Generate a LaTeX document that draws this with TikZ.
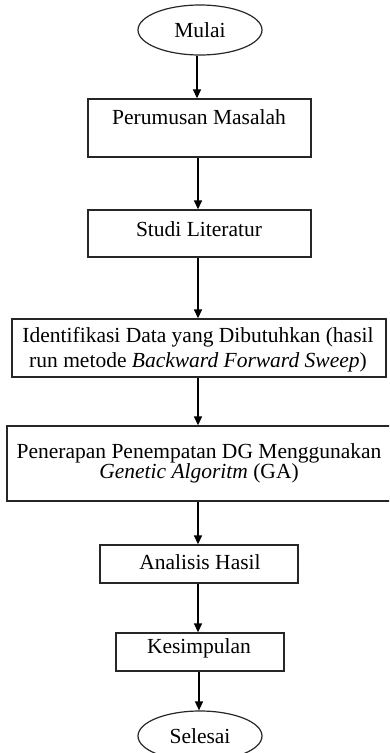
\documentclass[tikz,border=0pt]{standalone}
\usepackage{fontspec}
\setmainfont{Liberation Serif}
\usetikzlibrary{shapes.geometric,arrows.meta}
\begin{document}
\begin{tikzpicture}[x=1pt,y=-1pt,
 box/.style={draw=black!85, line width=1.3pt, inner sep=0pt},
 oval/.style={ellipse, draw=black!85, line width=1.2pt, inner sep=0pt, minimum width=124pt, minimum height=50pt, font=\fontsize{21.5}{25}\selectfont},
 txt/.style={font=\fontsize{21.5}{25}\selectfont, align=center, inner sep=0pt},
 arr/.style={draw=black, line width=1.4pt, -{Triangle[length=9pt,width=8pt]}}]
\useasboundingbox (0,0) rectangle (389,753);
\clip (0,0) rectangle (389,753);
\node[oval] (mulai) at (200,30) {Mulai};
\node[box, minimum width=223pt, minimum height=58pt] (perumusan) at (199.5,128) {};
\node[txt] (perumusanT) at (199,117) {Perumusan Masalah};
\node[box, minimum width=223pt, minimum height=47pt] (studi) at (199.5,233.5) {};
\node[txt] (studiT) at (199,229) {Studi Literatur};
\node[box, minimum width=374pt, minimum height=58pt] (ident) at (199,348) {};
\node[txt] (identT) at (198,349.5) {Identifikasi Data yang Dibutuhkan (hasil\\run metode \textit{Backward Forward Sweep})};
\node[box, minimum width=386pt, minimum height=75pt] (penerapan) at (200,463.5) {};
\node[txt, font=\fontsize{21.5}{20}\selectfont] (penerapanT) at (199,463) {Penerapan Penempatan DG Menggunakan\\\textit{Genetic Algoritm} (GA)};
\node[box, minimum width=198pt, minimum height=38pt] (analisis) at (199,564) {};
\node[txt] (analisisT) at (200,562) {Analisis Hasil};
\node[box, minimum width=168pt, minimum height=38pt] (kesimpulan) at (200,652) {};
\node[txt] (kesimpulanT) at (199,648) {Kesimpulan};
\node[oval] (selesai) at (200,736) {Selesai};
\draw[arr] ([xshift=-3pt]mulai.south) -- ([xshift=-3pt]mulai.south |- perumusan.north);
\draw[arr] ([xshift=-1.5pt]perumusan.south) -- ([xshift=-1.5pt]perumusan.south |- studi.north);
\draw[arr] ([xshift=-1.5pt]studi.south) -- ([xshift=-1.5pt]studi.south |- ident.north);
\draw[arr] ([xshift=-1pt]ident.south) -- ([xshift=-1pt]ident.south |- penerapan.north);
\draw[arr] ([xshift=-2pt]penerapan.south) -- ([xshift=-2pt]penerapan.south |- analisis.north);
\draw[arr] ([xshift=-1pt]analisis.south) -- ([xshift=-1pt]analisis.south |- kesimpulan.north);
\draw[arr] ([xshift=-1pt]kesimpulan.south) -- ([xshift=-1pt]kesimpulan.south |- selesai.north);
\end{tikzpicture}
\end{document}
